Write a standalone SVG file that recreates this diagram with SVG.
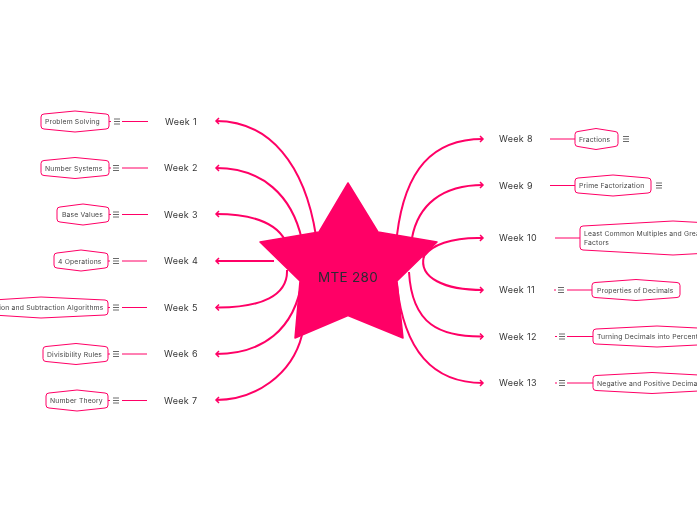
<svg xmlns="http://www.w3.org/2000/svg" width="697" height="520" viewBox="0 0 697 520">
<style>
text{font-family:"Inter","Noto Sans",sans-serif;opacity:.99}
.w{font-size:9px;fill:#333;letter-spacing:.32px}
.n{font-size:6.8px;fill:#444;letter-spacing:.17px}
.b{fill:#fff;stroke:#ff0066;stroke-width:1}
.c{fill:none;stroke:#ff0066;stroke-width:2}
.l{fill:none;stroke:#ff0066;stroke-width:1}
.i{fill:none;stroke:#444;stroke-width:.8}
</style>
<defs>
<marker id="a" markerUnits="userSpaceOnUse" markerWidth="10" markerHeight="10" refX="5" refY="5" orient="auto"><path d="M2 2L5 5L2 8" fill="none" stroke="#ff0066" stroke-width="1.500"/></marker>
<path id="m" d="M0 .5H6M0 3H6M0 5.500H6" class="i"/>
<filter id="s" x="-5%" y="-5%" width="110%" height="110%"><feGaussianBlur stdDeviation=".5"/></filter>
</defs>
<g id="connectors">
<path class="c" marker-end="url(#a)" d="M316 236C305 165 270 121 216 121"/>
<path class="c" marker-end="url(#a)" d="M302 240C292 195 262 168 216 168"/>
<path class="c" marker-end="url(#a)" d="M285 240C275 222 250 214 216 214"/>
<path class="c" marker-end="url(#a)" d="M274 261H216"/>
<path class="c" marker-end="url(#a)" d="M287 270C288 295 262 308 216 307.500"/>
<path class="c" marker-end="url(#a)" d="M302 280C295 330 262 354 216 354"/>
<path class="c" marker-end="url(#a)" d="M302 335C292 375 255 400 216 400"/>
<path class="c" marker-end="url(#a)" d="M397 235C405 170 432 139 483 139"/>
<path class="c" marker-end="url(#a)" d="M412 238C418 205 442 185 483 185"/>
<path class="c" marker-end="url(#a)" d="M423 258C430 245 452 237 483 238"/>
<path class="c" marker-end="url(#a)" d="M424 256C418 278 445 290 483 290"/>
<path class="c" marker-end="url(#a)" d="M409 272C412 325 440 337 483 336.500"/>
<path class="c" marker-end="url(#a)" d="M397 285C405 360 440 383 483 383"/>
<path class="l" d="M122 121.500H148M122 168H148M122 214.500H148M122 261H147M122 307.500H147M122 354H147M122 400.500H147"/>
<path class="l" d="M109 121.500H111M109 168H111M109 214.500H111M108 261H110M108 307.500H110M108 354H110M108 400.500H110"/>
<path class="l" d="M550 139H575M550 185.500H575M555 238H580M567 290H592M567 336.500H593M567 383H593"/>
<path class="l" d="M554 290H556M555 336.500H557M555 383H557"/>
</g>
<g id="center">
<path d="M348 183L378 232L437 242L397 281L403 338L348 315.500L295 338L300 281L260 242L319 232Z" fill="#ff0066" stroke="#ff0066" stroke-linejoin="round" stroke-width="1.500" filter="url(#s)"/>
<text x="348" y="282" text-anchor="middle" fill="#2b2b33" style="font-size:13.500px;letter-spacing:.3px">MTE 280</text>
</g>
<g id="w1"><text class="w" x="165" y="125">Week 1</text></g>
<g id="w2"><text class="w" x="164" y="171">Week 2</text></g>
<g id="w3"><text class="w" x="164" y="218">Week 3</text></g>
<g id="w4"><text class="w" x="164" y="264">Week 4</text></g>
<g id="w5"><text class="w" x="164" y="311">Week 5</text></g>
<g id="w6"><text class="w" x="164" y="357">Week 6</text></g>
<g id="w7"><text class="w" x="164" y="404">Week 7</text></g>
<g id="w8"><text class="w" x="499" y="142">Week 8</text></g>
<g id="w9"><text class="w" x="499" y="189">Week 9</text></g>
<g id="w10"><text class="w" x="499" y="241">Week 10</text></g>
<g id="w11"><text class="w" x="499" y="293">Week 11</text></g>
<g id="w12"><text class="w" x="499" y="340">Week 12</text></g>
<g id="w13"><text class="w" x="499" y="386">Week 13</text></g>
<g id="n1"><path class="b" d="M44 114L75 111L106 114Q109 114 109 117V126Q109 129 106 129L75 132L44 129Q41 129 41 126V117Q41 114 44 114Z"/><text class="n" x="45" y="124">Problem Solving</text><use href="#m" x="114" y="118.500"/></g>
<g id="n2"><path class="b" d="M44 160.500L75 157.500L106 160.500Q109 160.500 109 163.500V172.500Q109 175.500 106 175.500L75 178.500L44 175.500Q41 175.500 41 172.500V163.500Q41 160.500 44 160.500Z"/><text class="n" x="45" y="170.500">Number Systems</text><use href="#m" x="113" y="165"/></g>
<g id="n3"><path class="b" d="M60 207L83 204L106 207Q109 207 109 210V219Q109 222 106 222L83 225L60 222Q57 222 57 219V210Q57 207 60 207Z"/><text class="n" x="62" y="217">Base Values</text><use href="#m" x="113" y="211.500"/></g>
<g id="n4"><path class="b" d="M57 253L81 250L105 253Q108 253 108 256V265Q108 268 105 268L81 271L57 268Q54 268 54 265V256Q54 253 57 253Z"/><text class="n" x="58" y="263.500">4 Operations</text><use href="#m" x="113" y="258"/></g>
<g id="n5"><path class="b" d="M-7 300L41 297L105 300Q108 300 108 303V312Q108 315 105 315L41 318L-7 315Q-10 315 -10 312V303Q-10 300 -7 300Z"/><text class="n" x="103.500" y="310" text-anchor="end">Addition and Subtraction Algorithms</text><use href="#m" x="113" y="304.500"/></g>
<g id="n6"><path class="b" d="M46 346.500L76 343.500L105 346.500Q108 346.500 108 349.500V358.500Q108 361.500 105 361.500L76 364.500L46 361.500Q43 361.500 43 358.500V349.500Q43 346.500 46 346.500Z"/><text class="n" x="47" y="356.500">Divisibility Rules</text><use href="#m" x="113" y="351"/></g>
<g id="n7"><path class="b" d="M49 393L77 390L105 393Q108 393 108 396V405Q108 408 105 408L77 411L49 408Q46 408 46 405V396Q46 393 49 393Z"/><text class="n" x="50" y="403">Number Theory</text><use href="#m" x="113" y="397.500"/></g>
<g id="n8"><path class="b" d="M578 131.500L596 128.500L615 131.500Q618 131.500 618 134.500V143.500Q618 146.500 615 146.500L596 149.500L578 146.500Q575 146.500 575 143.500V134.500Q575 131.500 578 131.500Z"/><text class="n" x="579" y="141.500">Fractions</text><use href="#m" x="623" y="136"/></g>
<g id="n9"><path class="b" d="M578 178L613 175L648 178Q651 178 651 181V190Q651 193 648 193L613 196L578 193Q575 193 575 190V181Q575 178 578 178Z"/><text class="n" x="579" y="188">Prime Factorization</text><use href="#m" x="656" y="182.500"/></g>
<g id="n10"><path class="b" d="M583 226L673 221L763 226Q766 226 766 229V247Q766 250 763 250L673 255L583 250Q580 250 580 247V229Q580 226 583 226Z"/><text class="n" x="584" y="236">Least Common Multiples and Greatest Common</text><text class="n" x="584" y="245">Factors</text></g>
<g id="n11"><path class="b" d="M595 282.500L636 279.500L677 282.500Q680 282.500 680 285.500V294.500Q680 297.500 677 297.500L636 300.500L595 297.500Q592 297.500 592 294.500V285.500Q592 282.500 595 282.500Z"/><text class="n" x="597" y="293">Properties of Decimals</text><use href="#m" x="558" y="287"/></g>
<g id="n12"><path class="b" d="M596 329L657 326L718 329Q721 329 721 332V341Q721 344 718 344L657 347L596 344Q593 344 593 341V332Q593 329 596 329Z"/><text class="n" x="597" y="339">Turning Decimals into Percents</text><use href="#m" x="559" y="333.500"/></g>
<g id="n13"><path class="b" d="M596 375.500L652 372.500L708 375.500Q711 375.500 711 378.500V387.500Q711 390.500 708 390.500L652 393.500L596 390.500Q593 390.500 593 387.500V378.500Q593 375.500 596 375.500Z"/><text class="n" x="597" y="386">Negative and Positive Decimals</text><use href="#m" x="559" y="380"/></g>
</svg>
